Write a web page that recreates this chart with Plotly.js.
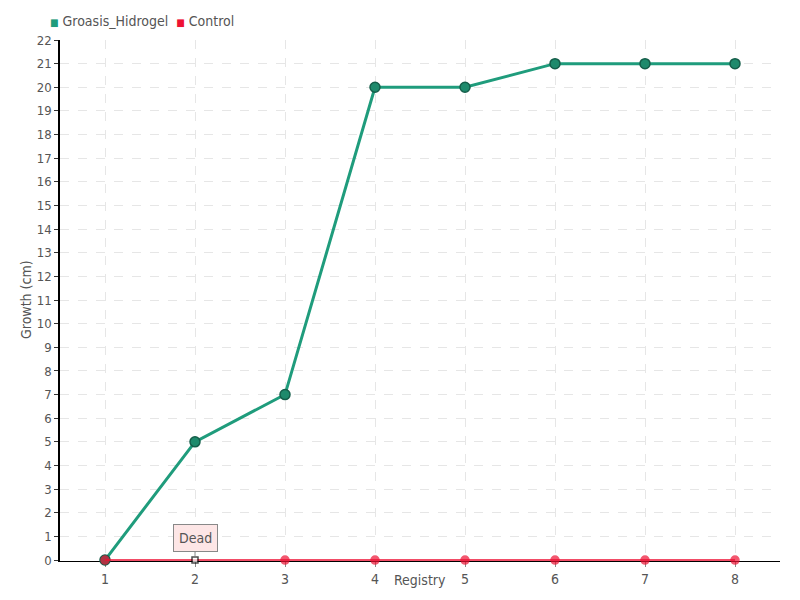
<!DOCTYPE html>
<html>
<head>
<meta charset="utf-8">
<script src="https://cdn.plot.ly/plotly-3.0.1.min.js"></script>
<style>html,body{margin:0;padding:0;background:#fff}#chart{width:800px;height:600px}</style>
</head>
<body>
<div id="chart"></div>
<script>
const registry = [1, 2, 3, 4, 5, 6, 7, 8];
const groasisHidrogel = [0, 5, 7, 20, 20, 21, 21, 21];
const control = [0, 0, 0, 0, 0, 0, 0, 0];
const seriesNames = ['Groasis_Hidrogel', 'Control'];
const xTitle = 'Registry';
const yTitle = 'Growth (cm)';
const deadRegistry = 2;
const deadLabel = "Dead";
const yTicks = Array.from({length: 23}, (_, i) => i);

const green = '#1f9c7c';
const red = '#ee1133';
const font = 'Liberation Sans Narrow, DejaVu Sans Condensed, sans-serif';

const ctrlSymbols = registry.map(r => r === deadRegistry ? 'square' : 'circle');
const ctrlColors = registry.map(r => r === deadRegistry ? '#ffffff' : red);
const ctrlLineColors = registry.map(r => r === deadRegistry ? '#000000' : red);
const ctrlSizes = registry.map(r => r === deadRegistry ? 6 : 8);

const W = 800, H = 600, ML = 60, MR = 20, MT = 40, MB = 39;
const PW = W - ML - MR, PH = H - MT - MB;
const px = x => (x - ML) / PW;
const py = y => (H - MB - y) / PH;

const traces = [
  {x: registry, y: groasisHidrogel, mode: 'lines+markers', name: seriesNames[0], cliponaxis: false,
   line: {color: green, width: 3}, marker: {size: 10, color: '#1e8a6c', line: {color: '#155e4a', width: 1.5}}},
  {x: registry, y: control, mode: 'lines+markers', name: seriesNames[1], cliponaxis: false,
   line: {color: red, width: 1.5}, marker: {size: ctrlSizes, color: ctrlColors, symbol: ctrlSymbols, line: {color: ctrlLineColors, width: 1.5}}}
];

const layout = {
  width: W, height: H,
  margin: {l: ML, r: MR, t: MT, b: MB},
  paper_bgcolor: '#fff', plot_bgcolor: '#fff',
  font: {family: font, size: 14, color: '#555'},
  showlegend: false,
  xaxis: {range: [0.5, 8.5], tickvals: registry, ticktext: registry.map(String), showgrid: true,
          gridcolor: '#e6e6e6', griddash: 'dash', zeroline: false, showline: true, linecolor: '#000', linewidth: 1,
          layer: 'below traces',
          ticks: 'outside', ticklen: 5, tickcolor: '#888', tickfont: {size: 14, color: '#555'}},
  yaxis: {range: [-0.04, 22], tickvals: yTicks, showgrid: true, gridcolor: '#e6e6e6', griddash: 'dash',
          zeroline: false, showline: true, linecolor: '#000', linewidth: 1.5, layer: 'below traces',
          ticks: 'outside', ticklen: 4, tickcolor: '#333', tickfont: {size: 13, color: '#555'}},
  annotations: [
    {x: deadRegistry, y: 0, xref: 'x', yref: 'y', text: deadLabel, showarrow: true,
     ax: 0, ay: -22, arrowhead: 0, arrowwidth: 1, arrowcolor: '#888', standoff: 4,
     bgcolor: '#fde6e6', bordercolor: '#888', borderwidth: 1, borderpad: 5,
     font: {size: 14, color: '#555'}},
    {x: px(48), y: py(21), xref: 'paper', yref: 'paper', xanchor: 'left', yanchor: 'middle', showarrow: false,
     text: '<span style="color:' + green + ';font-size:10px">■</span> ' + seriesNames[0] +
           '  <span style="color:' + red + ';font-size:10px">■</span> ' + seriesNames[1],
     font: {size: 14, color: '#555'}},
    {x: px(420), y: py(580), xref: 'paper', yref: 'paper', xanchor: 'center', yanchor: 'middle', showarrow: false,
     text: xTitle, font: {size: 14, color: '#555'}},
    {x: px(26), y: py(300), xref: 'paper', yref: 'paper', xanchor: 'center', yanchor: 'middle', showarrow: false,
     textangle: -90, text: yTitle, font: {size: 14, color: '#555'}}
  ]
};

Plotly.newPlot('chart', traces, layout, {displayModeBar: false});
</script>
</body>
</html>
